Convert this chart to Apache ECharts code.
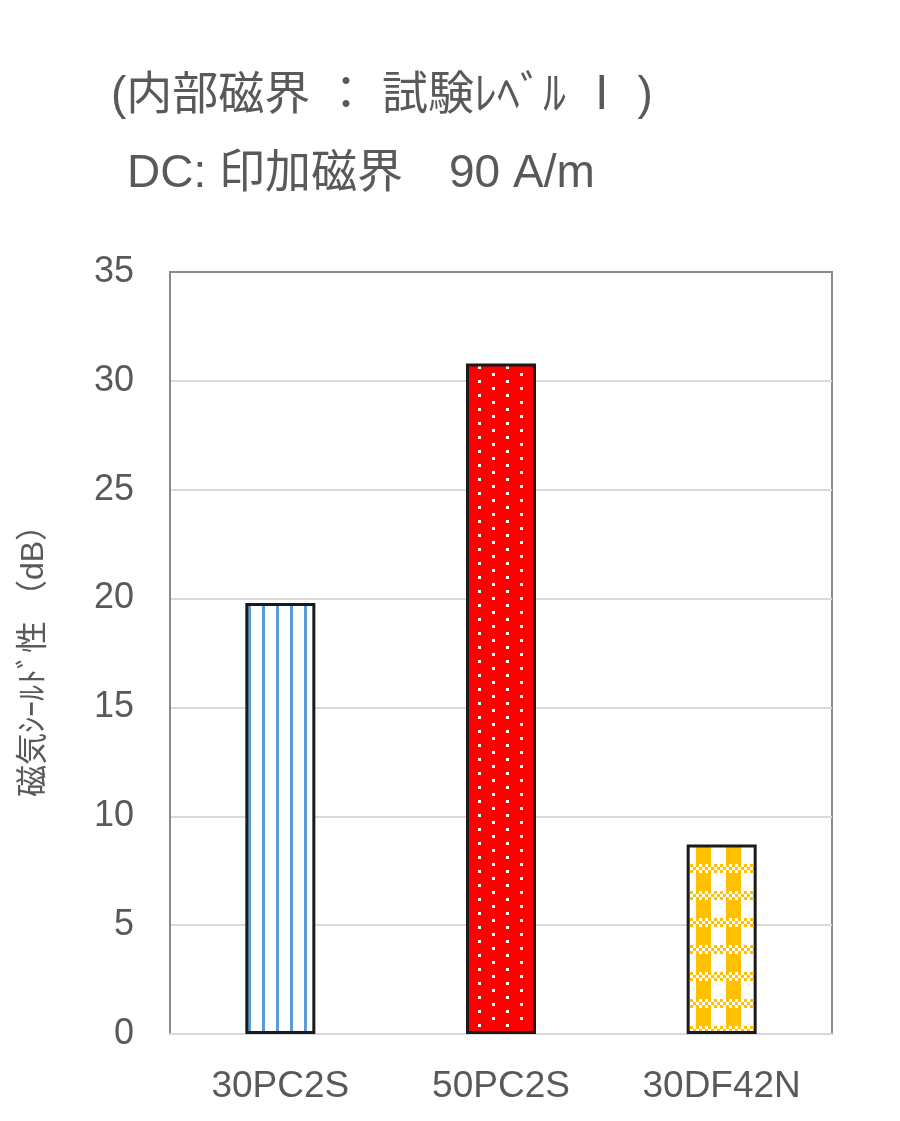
<!DOCTYPE html>
<html><head><meta charset="utf-8">
<script src="https://cdn.jsdelivr.net/npm/echarts@6/dist/echarts.min.js"></script>
<style>html,body{margin:0;padding:0;background:#fff}#c{width:900px;height:1121px}</style>
</head><body><div id="c"></div>
<script>
const categories = ['30PC2S', '50PC2S', '30DF42N'];
const values = [19.8, 30.8, 8.7];
const yTicks = [0, 5, 10, 15, 20, 25, 30, 35];
const titleLine1 = '(内部磁界 ： 試験ﾚﾍﾞﾙ Ⅰ )';
const titleLine2 = 'DC: 印加磁界　90 A/m';
const yName = '磁気ｼｰﾙﾄﾞ性 （dB）';

function mk(w, h, draw) {
  const c = document.createElement('canvas'); c.width = w; c.height = h;
  draw(c.getContext('2d')); return c;
}
const stripe = mk(14, 14, g => { g.fillStyle = '#fff'; g.fillRect(0,0,14,14); g.fillStyle = '#5b9bd5'; g.fillRect(10,0,3,14); });
const dots = mk(28, 14, g => { g.fillStyle = '#ff0000'; g.fillRect(0,0,28,14); g.fillStyle = '#fff'; g.fillRect(2,2,3,3); g.fillRect(16,9,3,3); });
const check = mk(30, 27, g => {
  g.fillStyle = '#fff'; g.fillRect(0,0,30,27);
  g.fillStyle = '#ffc000';
  for (let r = 0; r < 3; r++) for (let c = 0; c < 10; c++) if ((r + c) % 2 === 0) g.fillRect(c*3, r*3, 3, 3);
  g.fillRect(6, 9, 15, 18);
});
const pats = [stripe, dots, check];
const splitColors = yTicks.map((t, i) => i === yTicks.length - 1 ? '#898989' : '#d9d9d9');

const chart = echarts.init(document.getElementById('c'), null, {renderer: 'canvas'});
chart.setOption({
  animation: false,
  backgroundColor: '#fff',
  title: [
    {text: titleLine1, left: 106, top: 68, textStyle: {fontFamily: '"Liberation Sans", "Noto Sans CJK JP"', fontSize: 46, fontWeight: 'normal', color: '#595959'}},
    {text: titleLine2, left: 122, top: 146, textStyle: {fontFamily: '"Liberation Sans", "Noto Sans CJK JP"', fontSize: 46, fontWeight: 'normal', color: '#595959'}}
  ],
  grid: {left: 170, right: 68, top: 272, bottom: 87, show: true, borderColor: '#898989', borderWidth: 2, backgroundColor: 'transparent'},
  xAxis: {
    type: 'category', data: categories,
    axisLine: {lineStyle: {color: '#d9d9d9', width: 2}},
    axisTick: {show: false},
    axisLabel: {margin: 34, fontFamily: 'Liberation Sans', fontSize: 37, color: '#595959'}
  },
  yAxis: {
    type: 'value', min: yTicks[0], max: yTicks[yTicks.length-1], interval: 5,
    name: yName, nameLocation: 'middle', nameGap: 120, nameRotate: 90,
    nameTextStyle: {fontFamily: '"Liberation Sans", "Noto Sans CJK JP"', fontSize: 32, color: '#595959'},
    axisLine: {show: true, lineStyle: {color: '#898989', width: 2}}, axisTick: {show: false},
    axisLabel: {margin: 36, fontFamily: 'Liberation Sans', fontSize: 36, color: '#595959'},
    splitLine: {lineStyle: {color: splitColors, width: 2}}
  },
  series: [{
    type: 'bar', barWidth: 70,
    data: values.map((v, i) => ({value: v, itemStyle: {color: {image: pats[i], repeat: 'repeat'}}})),
    itemStyle: {borderColor: '#1a1a1a', borderWidth: 3}
  }]
});
</script></body></html>
